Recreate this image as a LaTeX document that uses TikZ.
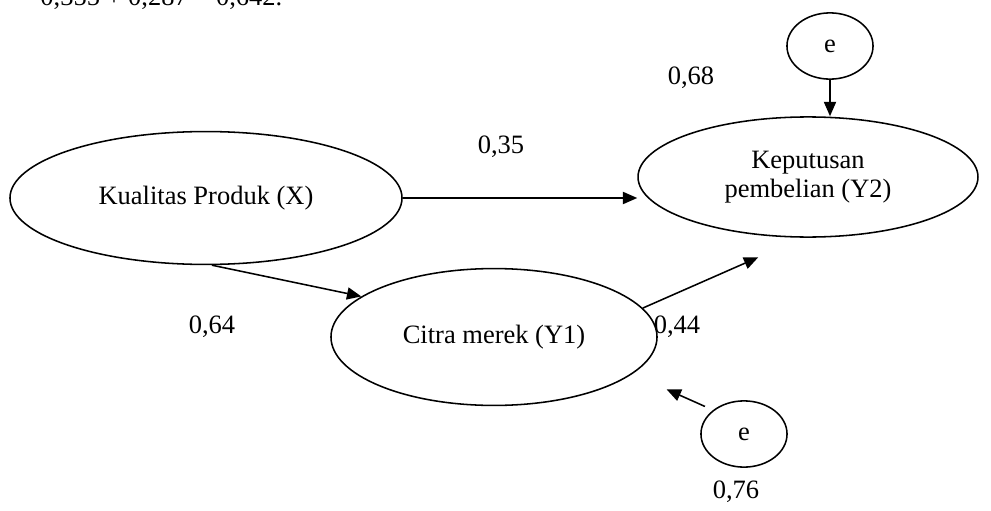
\documentclass[tikz,border=0pt]{standalone}
\usepackage{fontspec}
\setmainfont{Liberation Serif}
\usetikzlibrary{shapes.geometric, arrows.meta, calc}

\begin{document}
\begin{tikzpicture}[x=0.453pt, y=-0.453pt, font=\fontsize{12}{13}\selectfont]
    \tikzstyle{latent} = [ellipse, draw=black, line width=0.7pt, inner sep=0pt, align=center]
    \tikzstyle{error} = [ellipse, draw=black, line width=0.7pt, inner sep=0pt, minimum width=39pt, minimum height=30pt]
    \tikzstyle{coef} = [inner sep=0pt]
    \tikzstyle{arrow} = [line width=0.7pt, -{Triangle[length=6.5pt, width=5.5pt]}]

    \useasboundingbox (0,0) rectangle (991,511);

    \node (total) [coef, anchor=base west] at (40,5) {0,355 + 0,287 = 0,642.};

    \node (kx) [latent, minimum width=177.6pt, minimum height=60.2pt] at (206,198) {Kualitas Produk (X)};
    \node (kp) [latent, minimum width=154pt, minimum height=54.4pt] at (808,177) {Keputusan\\pembelian (Y2)};
    \node (cm) [latent, minimum width=147.7pt, minimum height=62pt] at (494,337) {Citra merek (Y1)};
    \node (et) [error] at (830,46) {e};
    \node (eb) [error] at (744,434) {e};

    \node (b68) [coef] at (691,78) {0,68};
    \node (b35) [coef] at (501,147) {0,35};
    \node (b64) [coef] at (212,327) {0,64};
    \node (b44) [coef] at (677,327) {0,44};
    \node (b76) [coef] at (736,492) {0,76};

    \draw [arrow] (kx) -- (kx -| kp.west);
    \draw [arrow] (kx.-85) -- (cm.163);
    \draw [arrow, shorten >=22pt] (cm.11) -- (kp.-95);
    \draw [arrow] (et.south) -- (et.south |- kp.north);
    \draw [arrow, shorten >=17pt, shorten <=4pt] (eb.north west) -- (cm.-15);
\end{tikzpicture}
\end{document}
